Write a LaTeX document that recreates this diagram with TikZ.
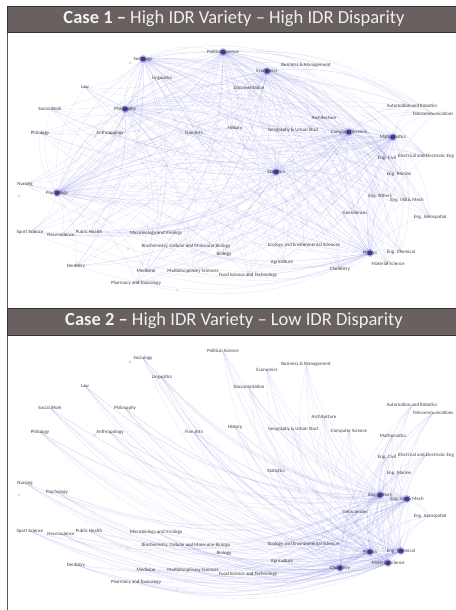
\documentclass[tikz,border=0pt]{standalone}
\usepackage{fontspec}
\setmainfont{Carlito}
\usetikzlibrary{backgrounds}

\definecolor{headgray}{RGB}{104,97,95}
\definecolor{hubblue}{RGB}{58,58,165}
\definecolor{edgeblue}{RGB}{112,112,225}
\definecolor{labelgray}{RGB}{62,62,62}

\tikzset{
  field/.style={font=\fontsize{4.9}{5.5}\selectfont, text=labelgray, inner sep=0pt},
  edge/.style={draw=edgeblue, line width=0.3pt, opacity=0.2},
  header/.style={fill=headgray, draw=black!80, line width=0.7pt},
  headtext/.style={text=white!94!black, font=\fontsize{18.5}{20}\selectfont, inner sep=0pt},
  panel/.style={draw=black!65, line width=0.6pt},
}

% name/x/y/label (case 1 positions, case 2 is shifted down)
\newcommand\fieldlist{
  soc/143/59/Sociology, pol/223/52/Political Science, lin/162/78/Linguistics,
  law/85/87/Law, eco/267/71/Economics, bus/306/65/Business \& Management,
  doc/249/88/Documentation, sow/50/109/Social Work, phi/125/109/Philosophy,
  plg/40/133/Philology, ant/110/133/Anthropology, art/194/133/Fine Arts,
  his/235/128/History, geo/293/130/Geography \& Urban Stud, arc/324/118/Architecture,
  com/349/132/Computer Science, aut/412/106/Automation and Robotics,
  tel/433/114/Telecommunications, mat/393/137/Mathematics, civ/387/158/Eng. Civil,
  ele/426/156/Electrical and Electronic Eng, sta/276/172/Statistics,
  mar/399/174/Eng. Marine, nur/25/184/Nursing, psy/57/193/Psychology,
  oth/380/196/Eng. Others, ind/407/200/Eng. Ind.\& Mech, gsc/355/213/Geosciences,
  aer/430/217/Eng. Aerospatial, spo/30/232/Sport Science, neu/61/235/Neuroscience,
  pub/89/232/Public Health, mic/156/233/Microbiology and Virology,
  bio/186/246/{Biochemistry, Cellular and Molecular Biology},
  ecl/304/245/Ecology and Environmental Sciences, bgy/224/254/Biology,
  phy/370/253/Physics, chm/401/252/Eng. Chemical, agr/282/262/Agriculture,
  msc/388/264/Material Science, den/76/266/Dentistry, med/146/271/Medicine,
  mul/193/271/Multidisciplinary Sciences, foo/248/275/Food Science and Technology,
  che/340/269/Chemistry, pha/136/283/Pharmacy and Toxicology
}

\begin{document}
\begin{tikzpicture}[x=1pt,y=-1pt]
\useasboundingbox (0,0) rectangle (455,610);

% ---- case 1
\draw[panel] (7,32) rectangle (462,308);
\foreach \n/\x/\y/\lbl in \fieldlist
  \node[field] (a-\n) at (\x,\y) {\lbl};
\begin{scope}[on background layer]
 \begin{scope}
  \clip (7,32) rectangle (455,308);
  \foreach \h in {soc,pol,eco,phi,psy,sta,com,mat,phy}
    \foreach \n/\x/\y/\lbl in \fieldlist {
      \edef\hA{\h}\edef\hB{\n}
      \ifx\hA\hB\else\draw[edge] (a-\h.center) to[bend left=20] (a-\n.center);\fi
    }
  \foreach \h in {soc,pol,eco,phi,psy,sta,com,mat,phy} {
    \fill[hubblue, opacity=0.3] (a-\h.center) circle (4pt);
    \fill[hubblue] (a-\h.center) circle (2.5pt);
  }
  \foreach \p in {(130,63),(95,136),(19,196),(128,249),(177,290)}
    \fill[black!12] \p circle (1.6pt);
 \end{scope}
\end{scope}
\draw[header] (7,6) rectangle (462,32);
\node[headtext] (head1) at (234,19) {\textbf{Case 1 –} High IDR Variety – High IDR Disparity};

% ---- case 2
\draw[panel] (7,335) rectangle (462,612);
\foreach \n/\x/\y/\lbl in \fieldlist
  \node[field] (b-\n) at (\x,\y+299) {\lbl};
\begin{scope}[on background layer]
 \begin{scope}
  \clip (7,335) rectangle (455,610);
  \foreach \h in {oth,ind,phy,chm,msc,che}
    \foreach \n/\x/\y/\lbl in \fieldlist {
      \edef\hA{\h}\edef\hB{\n}
      \ifx\hA\hB\else\draw[edge] (b-\h.center) to[bend left=20] (b-\n.center);\fi
    }
  \foreach \h in {oth,ind,phy,chm,msc,che} {
    \fill[hubblue, opacity=0.3] (b-\h.center) circle (4pt);
    \fill[hubblue] (b-\h.center) circle (2.5pt);
  }
  \foreach \p in {(130,362),(95,435),(19,495),(128,548),(177,589)}
    \fill[black!12] \p circle (1.6pt);
 \end{scope}
\end{scope}
\draw[header] (7,308) rectangle (462,335);
\node[headtext] (head2) at (234,321) {\textbf{Case 2 –} High IDR Variety – Low IDR Disparity};
\end{tikzpicture}
\end{document}
